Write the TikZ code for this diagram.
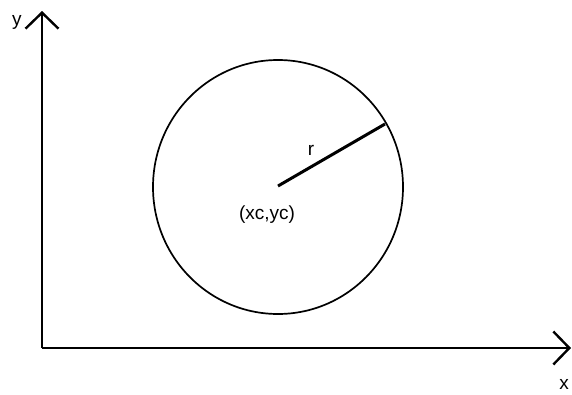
\documentclass[tikz,border=0pt]{standalone}
\usepackage{fontspec}
\setmainfont{Liberation Sans}
\usetikzlibrary{arrows.meta,shapes.geometric}
\begin{document}
\begin{tikzpicture}[x=1pt,y=-1pt,
  axis/.style={line width=2pt,-{Straight Barb[length=16pt,width=33pt,line width=2.4pt]}},
  lbl/.style={font=\fontsize{19}{21}\selectfont,inner sep=0pt}]
\useasboundingbox (0,0) rectangle (572,394);
\fill[white] (0,0) rectangle (572,394);
\coordinate (o) at (42,348);
\coordinate (ytip) at (42,11);
\coordinate (xtip) at (571,348);
\draw[axis] (o) -- (ytip);
\draw[axis] (o) -- (xtip);
\node[lbl] (ylab) at (17,22) {y};
\node[lbl] (xlab) at (564,384) {x};
\node[draw,ellipse,line width=1.7pt,minimum width=250pt,minimum height=254pt,inner sep=0pt] (c) at (278,187) {};
\coordinate (ctr) at (278,186);
\coordinate (rend) at (385,124);
\draw[line width=3pt] (ctr) -- (rend);
\node[lbl] (rlab) at (311,150) {r};
\node[lbl] (clab) at (267,215) {(xc,yc)};
\end{tikzpicture}
\end{document}
